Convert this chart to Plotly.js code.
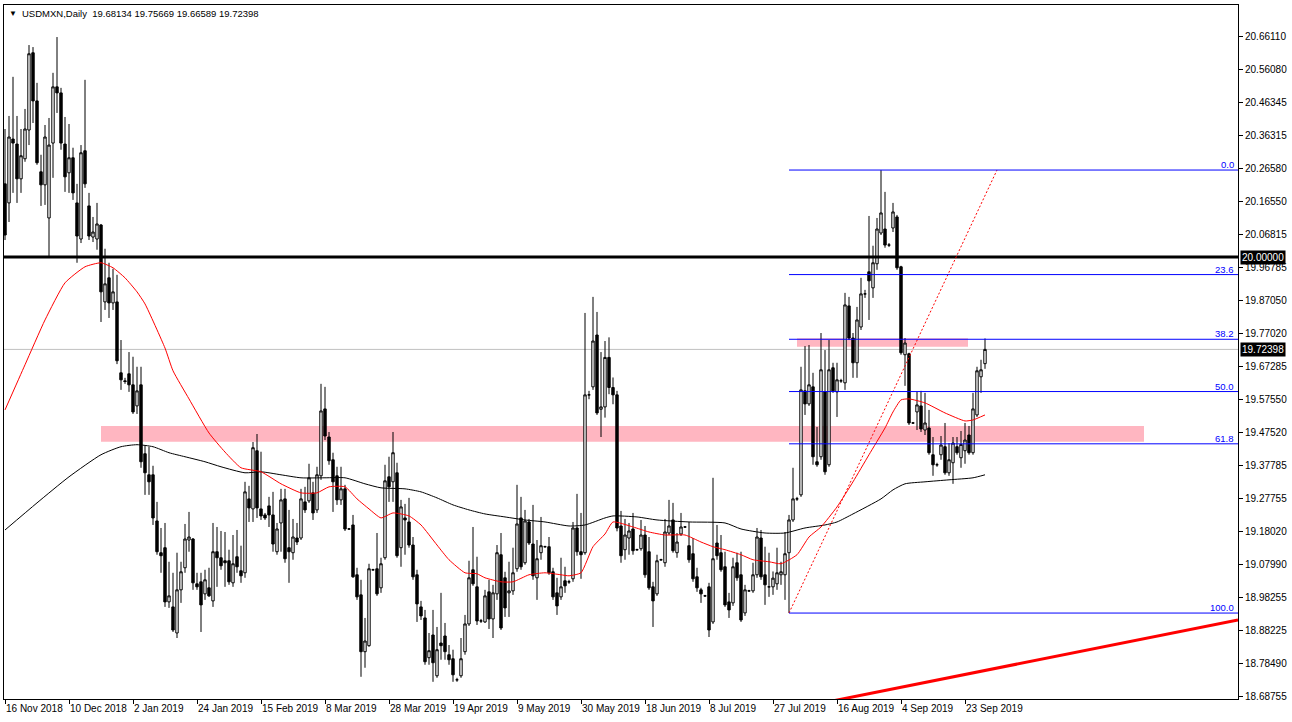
<!DOCTYPE html>
<html><head><meta charset="utf-8">
<script src="https://cdn.plot.ly/plotly-3.0.1.min.js"></script>
<style>html,body{margin:0;padding:0;background:#fff;}#chart{width:1292px;height:722px;}</style>
</head><body><div id="chart"></div>
<script>
const openP = [20.219,20.162,20.353,20.338,20.234,20.294,20.380,20.611,20.467,20.255,20.216,20.117,20.341,20.509,20.491,20.338,20.252,20.297,20.162,20.054,
20.318,20.153,20.060,20.054,20.096,19.866,19.938,19.863,19.866,19.654,19.630,19.651,19.618,19.555,19.618,19.412,19.349,19.349,19.211,19.116,
19.131,18.969,18.954,18.876,19.005,19.071,19.154,19.157,19.023,19.029,18.993,19.011,18.972,19.119,19.101,19.092,19.092,19.026,19.104,19.062,
19.056,19.277,19.247,19.421,19.247,19.229,19.256,19.229,19.119,19.205,19.277,19.131,19.116,19.160,19.160,19.268,19.271,19.295,19.244,19.346,
19.546,19.462,19.394,19.346,19.274,19.307,19.187,19.199,19.050,18.990,18.820,18.838,19.065,19.068,19.011,19.101,19.343,19.328,19.355,19.131,
19.220,19.208,19.139,19.050,18.954,18.921,18.802,18.870,18.748,18.846,18.867,18.811,18.799,18.736,18.748,18.820,18.903,19.065,19.014,18.912,
18.909,18.999,18.918,18.993,19.110,19.041,18.996,19.002,19.068,19.220,19.086,19.208,19.142,19.041,19.116,19.134,19.134,19.059,18.996,18.984,
19.032,19.029,19.038,19.190,19.119,19.116,19.588,19.612,19.767,19.545,19.552,19.700,19.610,19.588,19.196,19.125,19.160,19.187,19.125,19.128,
19.169,19.119,19.014,18.993,19.095,19.086,19.175,19.214,19.116,19.172,19.193,19.137,19.113,19.044,19.005,18.987,19.014,18.909,19.145,19.116,
19.074,18.969,18.966,19.086,19.050,18.936,19.002,19.002,19.050,19.160,19.050,19.014,19.014,19.023,19.050,19.050,19.116,19.214,19.277,19.289,
19.600,19.561,19.612,19.388,19.403,19.597,19.379,19.669,19.597,19.630,19.624,19.854,19.758,19.684,19.791,19.890,19.956,19.908,19.980,20.072,
20.084,20.036,20.087,20.120,19.971,19.708,19.711,19.504,19.537,19.555,19.483,19.489,19.409,19.379,19.409,19.433,19.355,19.385,19.433,19.400,
19.421,19.468,19.415,19.528,19.642,19.68134];
const highP = [20.383,20.422,20.539,20.422,20.383,20.443,20.634,20.628,20.521,20.306,20.395,20.416,20.551,20.658,20.506,20.419,20.398,20.327,20.219,20.335,
20.530,20.192,20.120,20.162,20.099,20.025,19.983,19.965,19.947,19.752,19.639,19.716,19.702,19.672,19.672,19.436,19.433,19.376,19.268,19.190,
19.205,19.089,19.056,19.116,19.089,19.202,19.238,19.160,19.056,19.056,19.065,19.071,19.205,19.193,19.181,19.178,19.125,19.169,19.184,19.137,
19.328,19.316,19.447,19.471,19.418,19.235,19.283,19.298,19.205,19.307,19.307,19.244,19.217,19.205,19.307,19.313,19.382,19.328,19.373,19.621,
19.612,19.477,19.415,19.373,19.373,19.319,19.190,19.229,19.071,19.035,18.921,19.083,19.068,19.175,19.101,19.379,19.403,19.477,19.385,19.274,
19.262,19.280,19.163,19.065,18.972,18.945,18.876,18.945,18.894,18.996,18.906,18.840,18.826,18.742,18.861,18.930,19.092,19.193,19.104,18.918,
19.005,19.035,19.020,19.139,19.175,19.059,19.089,19.131,19.319,19.283,19.244,19.217,19.259,19.154,19.223,19.137,19.163,19.071,19.041,19.101,
19.074,19.035,19.208,19.292,19.235,19.833,19.600,19.881,19.836,19.716,19.749,19.760,19.640,19.600,19.241,19.217,19.205,19.235,19.128,19.214,
19.196,19.163,19.029,19.110,19.098,19.217,19.274,19.265,19.175,19.235,19.196,19.208,19.160,19.071,19.011,18.990,19.026,19.340,19.199,19.169,
19.119,18.996,19.101,19.116,19.119,19.020,19.005,19.086,19.190,19.184,19.134,19.116,19.060,19.131,19.089,19.178,19.229,19.370,19.283,19.672,
19.734,19.737,19.654,19.492,19.773,19.722,19.752,19.684,19.684,19.636,19.893,19.881,19.773,19.851,19.938,19.902,20.123,20.034,20.117,20.260,
20.195,20.042,20.162,20.126,19.974,19.758,19.714,19.507,19.597,19.600,19.594,19.543,19.462,19.385,19.465,19.504,19.444,19.462,19.462,19.480,
19.504,19.495,19.594,19.672,19.693,19.75669];
const lowP = [20.051,20.105,20.192,20.162,20.192,20.285,20.335,20.401,20.276,20.153,20.156,20.001,20.237,20.431,20.321,20.195,20.192,20.171,19.983,20.042,
20.207,20.051,20.045,20.022,19.806,19.842,19.818,19.842,19.680,19.603,19.621,19.597,19.531,19.531,19.370,19.289,19.289,19.199,19.110,19.056,
18.954,18.951,18.879,18.861,18.966,19.056,19.119,19.005,19.005,18.879,18.975,18.984,18.954,19.014,19.065,19.014,19.020,19.014,19.056,19.026,
19.041,19.208,19.208,19.220,19.214,19.214,19.193,19.119,19.110,19.119,19.086,19.026,19.095,19.139,19.154,19.235,19.265,19.214,19.235,19.334,
19.453,19.379,19.238,19.259,19.259,19.181,19.184,19.041,18.975,18.745,18.772,18.835,19.062,18.987,18.996,19.095,19.268,19.268,19.101,19.074,
19.110,19.131,19.035,18.909,18.915,18.781,18.781,18.730,18.742,18.796,18.796,18.781,18.730,18.730,18.742,18.811,18.897,19.017,18.900,18.906,
18.906,18.888,18.861,18.975,18.885,18.924,18.924,18.990,19.059,19.065,19.080,19.139,19.035,18.975,19.095,19.131,19.050,18.975,18.930,18.975,
18.996,19.023,19.029,19.107,19.038,19.110,19.575,19.603,19.528,19.462,19.520,19.590,19.560,19.180,19.086,19.095,19.110,19.110,19.122,19.122,
19.041,19.005,18.894,18.987,19.092,19.074,19.169,19.116,19.101,19.166,19.190,19.086,19.029,18.999,18.966,18.984,18.864,18.903,19.095,19.059,
18.954,18.921,18.957,19.032,18.909,18.927,18.999,18.996,19.041,19.035,18.960,18.984,18.990,19.005,19.020,18.975,18.936,19.208,19.271,19.283,
19.528,19.555,19.379,19.373,19.394,19.349,19.373,19.594,19.522,19.624,19.603,19.752,19.639,19.639,19.782,19.878,19.812,19.878,19.962,20.066,
20.028,20.030,20.075,19.962,19.708,19.615,19.498,19.501,19.483,19.477,19.468,19.409,19.346,19.373,19.394,19.349,19.346,19.322,19.409,19.370,
19.382,19.409,19.409,19.522,19.594,19.66589];
const closeP = [20.066,20.359,20.341,20.234,20.303,20.383,20.608,20.467,20.282,20.216,20.359,20.335,20.509,20.491,20.341,20.240,20.297,20.192,20.063,20.312,
20.219,20.063,20.075,20.099,19.896,19.920,19.863,19.896,19.690,19.633,19.628,19.618,19.537,19.600,19.388,19.355,19.328,19.220,19.119,19.107,
18.969,18.987,18.885,19.005,19.059,19.157,19.163,19.026,19.014,18.960,19.035,18.987,19.119,19.101,19.077,19.086,19.029,19.083,19.074,19.047,
19.298,19.250,19.430,19.250,19.226,19.220,19.229,19.142,19.187,19.274,19.098,19.119,19.163,19.148,19.277,19.244,19.340,19.235,19.349,19.540,
19.465,19.391,19.328,19.274,19.307,19.187,19.187,19.044,18.984,18.820,18.852,19.068,19.065,18.993,19.083,19.331,19.313,19.415,19.107,19.253,
19.214,19.139,19.044,18.963,18.927,18.790,18.823,18.787,18.826,18.838,18.820,18.796,18.751,18.736,18.799,18.903,19.041,19.023,18.912,18.912,
18.987,18.918,18.996,19.116,18.891,18.951,19.002,19.056,19.202,19.074,19.211,19.145,19.047,19.098,19.137,19.134,19.056,18.984,18.957,19.014,
19.017,19.029,19.190,19.119,19.110,19.588,19.588,19.749,19.534,19.552,19.700,19.610,19.588,19.190,19.107,19.169,19.181,19.122,19.125,19.169,
19.050,19.011,18.972,19.092,19.095,19.178,19.196,19.122,19.148,19.193,19.193,19.095,19.038,19.011,18.993,18.987,18.885,19.098,19.107,19.065,
18.960,18.945,19.074,19.041,18.915,19.005,19.002,19.050,19.163,19.044,19.020,19.014,19.040,19.056,19.059,19.113,19.214,19.277,19.277,19.603,
19.561,19.618,19.403,19.379,19.663,19.358,19.663,19.600,19.633,19.630,19.857,19.758,19.684,19.812,19.890,19.890,19.929,19.983,20.084,20.132,
20.036,20.036,20.135,19.968,19.714,19.743,19.504,19.504,19.558,19.486,19.504,19.415,19.379,19.379,19.438,19.355,19.394,19.444,19.415,19.440,
19.453,19.415,19.546,19.660,19.663,19.72398];

const xTickIdx = [0,16,32,48,64,80,96,112,128,144,160,176,192,208,224,240];
const xTickText = ['16 Nov 2018','10 Dec 2018','2 Jan 2019','24 Jan 2019','15 Feb 2019','8 Mar 2019','28 Mar 2019','19 Apr 2019','9 May 2019','30 May 2019','18 Jun 2019','8 Jul 2019','27 Jul 2019','16 Aug 2019','4 Sep 2019','23 Sep 2019'];
const yTickText = ['18.68755','18.78490','18.88225','18.98255','19.07990','19.18020','19.27755','19.37785','19.47520','19.57550','19.67285','19.77020','19.87050','19.96785','20.06815','20.16550','20.26580','20.36315','20.46345','20.56080','20.66110'];

const redMAIdx = [0,5,10,15,20,24,27,30,33,35,40,42,46,51,55,59,64,69,74,78,81,85,88,91,94,97,101,104,108,111,115,118,120,124,127,131,135,139,141,144,147,150,152,157,161,165,170,174,177,180,184,187,191,194,198,201,204,208,212,216,220,222,224,226,230,235,240,242,245];
const redMAVal = [19.543,19.678,19.812,19.923,19.971,19.983,19.968,19.938,19.896,19.860,19.728,19.660,19.576,19.474,19.417,19.370,19.358,19.322,19.295,19.295,19.313,19.313,19.277,19.247,19.220,19.235,19.226,19.199,19.139,19.095,19.056,19.053,19.041,19.029,19.029,19.050,19.056,19.050,19.047,19.056,19.134,19.172,19.208,19.193,19.178,19.169,19.169,19.148,19.134,19.125,19.110,19.095,19.089,19.083,19.110,19.163,19.193,19.253,19.328,19.409,19.489,19.537,19.573,19.576,19.564,19.534,19.510,19.513,19.528];
const blackMAIdx = [0,8,16,24,29,33,37,41,45,50,54,60,64,69,74,80,85,90,94,100,104,108,112,116,120,125,130,135,141,145,150,152,158,163,171,180,184,190,195,200,205,208,212,219,222,225,230,236,242,245];
const blackMAVal = [19.184,19.265,19.343,19.409,19.433,19.439,19.433,19.415,19.403,19.388,19.373,19.355,19.358,19.349,19.340,19.340,19.340,19.322,19.310,19.307,19.298,19.280,19.259,19.244,19.232,19.223,19.214,19.208,19.196,19.199,19.220,19.226,19.223,19.214,19.208,19.205,19.187,19.175,19.175,19.190,19.199,19.208,19.232,19.277,19.304,19.322,19.328,19.334,19.340,19.349];

const fibLevels = [0, 23.6, 38.2, 50, 61.8, 100];
const fibLabels = ['0.0','23.6','38.2','50.0','61.8','100.0'];
const fibHigh = 20.2603, fibLow = 18.9356;
const fibStartIdx = 196, fibDiagEndIdx = 248;
const roundLevel = 20.0;
const lastPrice = 19.72398;
const zoneA = {x0: 24, x1: 284.75, lo: 19.4480, hi: 19.4949};
const zoneB = {x0: 198, x1: 240.75, lo: 19.7321, hi: 19.7572};
const trendIdx = [207, 308.25];
const trendVal = [18.673, 18.915];
const header = 'USDMXN,Daily  19.68134 19.75669 19.66589 19.72398';

const barIdx = openP.map((_, i) => i);
const yTickVals = yTickText.map(Number);
const xMax = 308.25;
const FONT = 'Liberation Sans, Arial, sans-serif';

const traces = [
  {type:'candlestick', x:barIdx, open:openP, high:highP, low:lowP, close:closeP,
   increasing:{line:{color:'#000', width:1}, fillcolor:'#fff'},
   decreasing:{line:{color:'#000', width:1}, fillcolor:'#000'},
   whiskerwidth:0, hoverinfo:'skip'},
  {type:'scatter', mode:'lines', x:blackMAIdx, y:blackMAVal, line:{color:'#000', width:1, shape:'spline', smoothing:0.6}, hoverinfo:'skip'},
  {type:'scatter', mode:'lines', x:redMAIdx, y:redMAVal, line:{color:'#ff0000', width:1, shape:'spline', smoothing:0.5}, hoverinfo:'skip'},
  {type:'scatter', mode:'lines', x:trendIdx, y:trendVal, line:{color:'#ff0000', width:3}, hoverinfo:'skip'}
];

const shapes = [
  {type:'rect', xref:'x', yref:'y', x0:zoneA.x0, x1:zoneA.x1, y0:zoneA.lo, y1:zoneA.hi, fillcolor:'#ffb6c1', line:{width:0}, layer:'below'},
  {type:'rect', xref:'x', yref:'y', x0:zoneB.x0, x1:zoneB.x1, y0:zoneB.lo, y1:zoneB.hi, fillcolor:'#ffb6c1', line:{width:0}, layer:'below'},
  {type:'line', xref:'paper', yref:'y', x0:0, x1:1, y0:lastPrice, y1:lastPrice, line:{color:'#c0c0c0', width:1}, layer:'below'},
  {type:'line', xref:'paper', yref:'y', x0:0, x1:1, y0:roundLevel, y1:roundLevel, line:{color:'#000', width:3}, layer:'above'},
  {type:'line', xref:'x', yref:'y', x0:fibStartIdx, x1:fibDiagEndIdx, y0:fibLow, y1:fibHigh, line:{color:'#ff0000', width:1, dash:'2px,2px'}, layer:'above'}
];
const annotations = [
  {xref:'paper', yref:'paper', x:0, y:1, xanchor:'left', yanchor:'middle', xshift:3, yshift:-8, text:'▼', showarrow:false, font:{family:FONT, size:8, color:'#000'}},
  {xref:'paper', yref:'paper', x:0, y:1, xanchor:'left', yanchor:'middle', xshift:16, yshift:-8, text:header, showarrow:false, font:{family:FONT, size:9.5, color:'#000'}},
  {xref:'paper', yref:'y', x:1, y:roundLevel, xanchor:'left', yanchor:'middle', xshift:2, text:'20.00000', showarrow:false, bgcolor:'#000', borderpad:1, font:{family:FONT, size:10, color:'#fff'}},
  {xref:'paper', yref:'y', x:1, y:lastPrice, xanchor:'left', yanchor:'middle', xshift:2, text:'19.72398', showarrow:false, bgcolor:'#000', borderpad:1, font:{family:FONT, size:10, color:'#fff'}}
];
fibLevels.forEach((lv, k) => {
  const p = fibHigh - lv / 100 * (fibHigh - fibLow);
  shapes.push({type:'line', xref:'x', yref:'y', x0:fibStartIdx, x1:xMax, y0:p, y1:p, line:{color:'#0000ff', width:1}, layer:'above'});
  annotations.push({xref:'paper', yref:'y', x:1, y:p, xanchor:'right', yanchor:'bottom', xshift:-2, yshift:-2, text:fibLabels[k], showarrow:false, font:{family:FONT, size:9.5, color:'#0000ff'}});
});

const layout = {
  width:1292, height:722,
  margin:{l:4, r:54, t:5, b:23, pad:0},
  paper_bgcolor:'#fff', plot_bgcolor:'#fff',
  showlegend:false, hovermode:false, dragmode:false,
  font:{family:FONT, size:10, color:'#000'},
  xaxis:{range:[-0.25, xMax], rangeslider:{visible:false}, showgrid:false, zeroline:false,
    showline:true, linecolor:'#000', linewidth:1, mirror:true,
    ticks:'outside', ticklen:4, tickcolor:'#000', tickmode:'array', tickvals:xTickIdx, ticktext:xTickText,
    tickangle:0, ticklabelposition:'outside right', tickfont:{family:FONT, size:10, color:'#000'}, fixedrange:true},
  yaxis:{range:[18.6786, 20.7538], side:'right', showgrid:false, zeroline:false,
    showline:true, linecolor:'#000', linewidth:1, mirror:true,
    ticks:'outside', ticklen:4, tickcolor:'#000', tickmode:'array', tickvals:yTickVals, ticktext:yTickText,
    tickfont:{family:FONT, size:10, color:'#000'}, fixedrange:true},
  boxgap:0.4, boxgroupgap:0,
  shapes:shapes, annotations:annotations
};
Plotly.newPlot('chart', traces, layout, {displayModeBar:false, staticPlot:true});
</script></body></html>
